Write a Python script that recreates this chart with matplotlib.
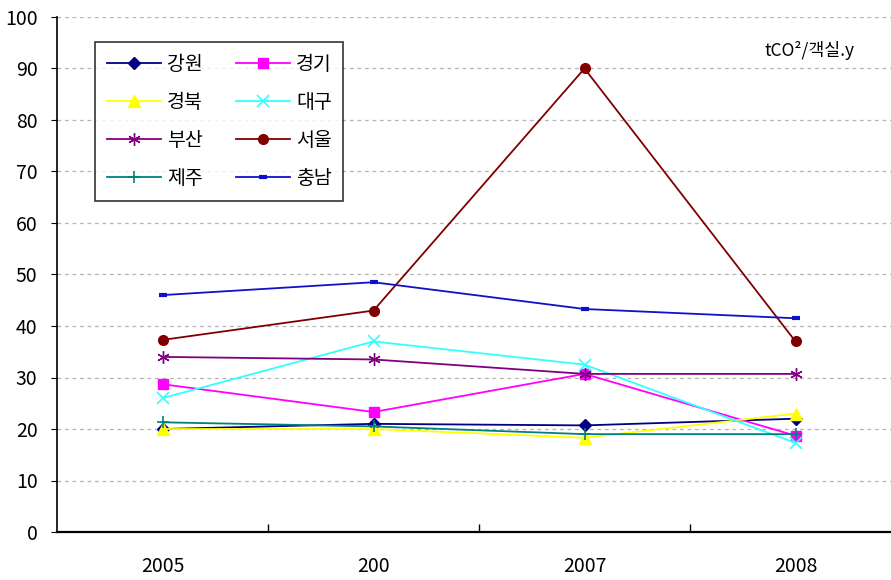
import matplotlib
matplotlib.use("Agg")
import matplotlib.pyplot as plt
from matplotlib.ticker import MultipleLocator, FixedLocator

plt.rcParams['font.family'] = ['Noto Sans CJK KR', 'DejaVu Sans']

years = ['2005', '200', '2007', '2008']

gangwon = [20.0, 21.0, 20.7, 22.0]
gyeonggi = [28.7, 23.3, 30.7, 18.7]
gyeongbuk = [20.0, 20.0, 18.3, 23.0]
daegu = [26.0, 37.0, 32.5, 17.3]
busan = [34.0, 33.5, 30.7, 30.7]
seoul = [37.3, 43.0, 90.0, 37.0]
jeju = [21.3, 20.5, 19.0, 19.0]
chungnam = [46.0, 48.5, 43.3, 41.5]

series = [
    ('강원', gangwon, '#000080', 'D', 6, 1.0),
    ('경기', gyeonggi, '#FF00FF', 's', 7, 1.0),
    ('경북', gyeongbuk, '#FFFF00', '^', 8, 1.0),
    ('대구', daegu, '#33FFFF', 'x', 8, 1.2),
    ('부산', busan, '#800080', '*', 0, 1.0),
    ('서울', seoul, '#800000', 'o', 7, 1.0),
    ('제주', jeju, '#008080', '+', 9, 1.2),
    ('충남', chungnam, '#1010C8', '_', 6, 3.0),
]

fig = plt.figure(figsize=(8.91, 5.8), dpi=100)
ax = fig.add_axes([57 / 891, 1 - 532 / 580, 844 / 891, (532 - 17) / 580])

x = list(range(len(years)))
handles = []
for name, vals, color, marker, ms, mew in series:
    if marker == '*':
        (h,) = ax.plot(x, vals, color=color, lw=1.3, marker=(6, 2, 0), ms=9,
                       mew=1.0, mec=color, label=name, zorder=3)
    else:
        (h,) = ax.plot(x, vals, color=color, lw=1.3, marker=marker, ms=ms,
                       mew=mew, mec=color, mfc=color, label=name, zorder=3)
    handles.append(h)

ax.set_xlim(-0.5, 3.5)
ax.set_ylim(0, 100)
ax.yaxis.set_major_locator(MultipleLocator(10))
ax.set_xticks(x)
ax.set_xticklabels(years)
ax.xaxis.set_minor_locator(FixedLocator([0.5, 1.5, 2.5]))
ax.tick_params(axis='x', which='major', length=0, pad=17, labelsize=14)
ax.tick_params(axis='x', which='minor', length=6, direction='in', width=1)
ax.tick_params(axis='y', which='major', length=4, direction='out', labelsize=14, pad=10)

for v in range(10, 101, 10):
    ax.axhline(v, color='#B4B4B4', lw=0.9, ls=(0, (3, 3)), zorder=1)

ax.spines['top'].set_visible(False)
ax.spines['right'].set_visible(False)
ax.spines['left'].set_linewidth(1.2)
ax.spines['bottom'].set_linewidth(1.6)

ax.text(0.945, 0.935, 'tCO²/객실.y', transform=ax.transAxes, ha='right',
        va='center', fontsize=12.5)

# two columns filled row by row
order = [0, 2, 4, 6, 1, 3, 5, 7]
leg = ax.legend(handles=[handles[i] for i in order], ncol=2, loc='upper left',
                bbox_to_anchor=(95 / 891, 1 - 42 / 580),
                bbox_transform=fig.transFigure, borderaxespad=0, fontsize=14,
                frameon=True, fancybox=False, edgecolor='black',
                handlelength=2.8, columnspacing=1.7, labelspacing=0.88,
                borderpad=0.6, handletextpad=0.3)
leg.get_frame().set_linewidth(1.2)

fig.savefig('out.png', dpi=100)
